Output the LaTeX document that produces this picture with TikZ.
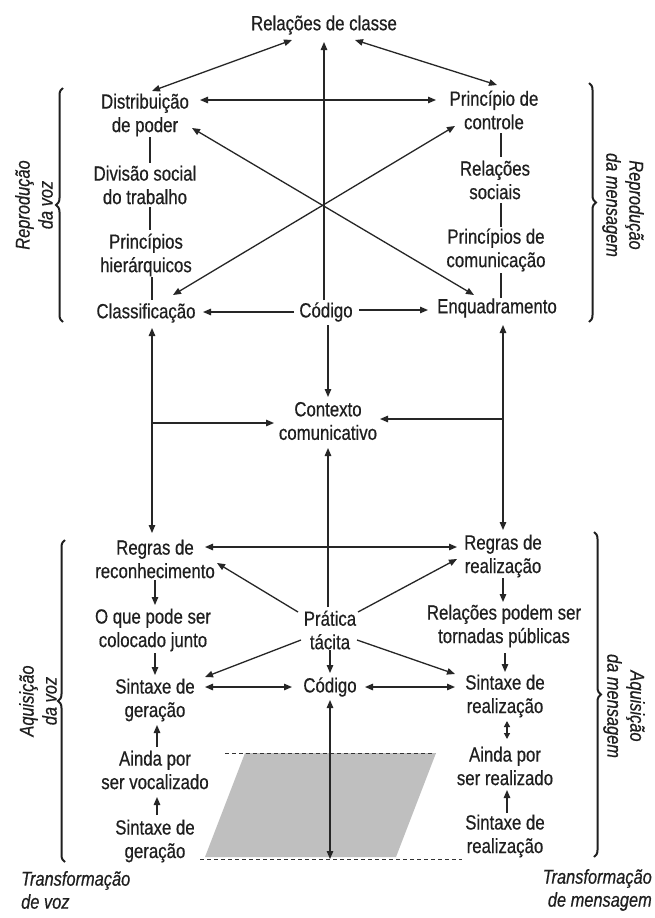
\documentclass[tikz,border=0pt]{standalone}
\usepackage{fontspec}
\setmainfont{Liberation Sans}[FakeStretch=0.82,FakeBold=0.5]
\usetikzlibrary{arrows.meta,calc,decorations.pathreplacing}
\begin{document}
\begin{tikzpicture}[x=1pt,y=-1pt,
  lbl/.style={align=center, inner sep=0pt, font=\fontsize{20.5}{23.5}\selectfont, text=black!88},
  side/.style={align=center, inner sep=0pt, font=\fontsize{20}{23}\selectfont\itshape, text=black!88},
  con/.style={line width=1.3pt, draw=black!85},
  arr/.style={con, -{Triangle[length=8pt,width=6.5pt]}},
  darr/.style={con, {Triangle[length=8pt,width=6.5pt]}-{Triangle[length=8pt,width=6.5pt]}},
  sdarr/.style={con, {Triangle[length=6pt,width=6pt]}-{Triangle[length=6pt,width=6pt]}},
  brc/.style={decorate, decoration={brace, amplitude=7pt}, line width=2pt, draw=black!88},
  dsh/.style={dash pattern=on 4pt off 3pt, line width=1pt, draw=black!80}
]
\fill[white] (0,0) rectangle (655,918);
\useasboundingbox (0,0) rectangle (655,918);

% shaded area
\fill[gray!50] (245,753) -- (436,753) -- (396,857) -- (205,857) -- cycle;
\coordinate (dtl) at (225,753);
\coordinate (dtr) at (435,753);
\coordinate (dbl) at (200,859);
\coordinate (dbr) at (462,859);
\coordinate (bot) at (330,859);
\draw[dsh] (dtl) -- (dtr);
\draw[dsh] (dbl) -- (dbr);

% nodes
\node[lbl] (rc) at (324,25) {Relações de classe};
\node[lbl] (dp) at (145,115) {Distribuição\\de poder};
\node[lbl] (pc) at (494,110) {Princípio de\\controle};
\node[lbl] (dst) at (145,185) {Divisão social\\do trabalho};
\node[lbl] (rs) at (495,180) {Relações\\sociais};
\node[lbl] (ph) at (146,255) {Princípios\\hierárquicos};
\node[lbl] (pcom) at (496,250) {Princípios de\\comunicação};
\node[lbl] (cl) at (146,313) {Classificação};
\node[lbl] (cod1) at (326,312) {Código};
\node[lbl] (enq) at (497,308) {Enquadramento};
\node[lbl] (ctx) at (328,421) {Contexto\\comunicativo};
\node[lbl] (rr) at (155,559) {Regras de\\reconhecimento};
\node[lbl] (rz) at (503,556) {Regras de\\realização};
\node[lbl] (oq) at (153,630) {O que pode ser\\colocado junto};
\node[lbl] (pt) at (330,630) {Prática\\tácita};
\node[lbl] (rp) at (504,626) {Relações podem ser\\tornadas públicas};
\node[lbl] (sg1) at (155,700) {Sintaxe de\\geração};
\node[lbl] (cod2) at (330,687) {Código};
\node[lbl] (sr1) at (505,696) {Sintaxe de\\realização};
\node[lbl] (av) at (155,770) {Ainda por\\ser vocalizado};
\node[lbl] (ar) at (505,766) {Ainda por\\ser realizado};
\node[lbl] (sg2) at (155,841) {Sintaxe de\\geração};
\node[lbl] (sr2) at (505,836) {Sintaxe de\\realização};

% side labels
\node[side, rotate=90] (l1) at (34,205) {Reprodução\\da voz};
\node[side, rotate=-90] (l2) at (623,205) {Reprodução\\da mensagem};
\node[side, rotate=90] (l3) at (38,701) {Aquisição\\da voz};
\node[side, rotate=-90] (l4) at (624,706) {Aquisição\\da mensagem};
\node[side, anchor=west, align=left] (l5) at (21,890) {Transformação\\de voz};
\node[side, anchor=east, align=right] (l6) at (652,890) {Transformação\\de mensagem};

% braces
\draw[brc] (63,322) -- (63,88);
\draw[brc] (589,83) -- (589,322);
\draw[brc] (65,862) -- (65,540);
\draw[brc] (594,532) -- (594,857);

% top part
\draw[darr] ($(rc)+(-32,15)$) -- ($(dp)+(7,-24)$);
\draw[darr] ($(rc)+(31,15)$) -- ($(pc)+(3,-25)$);
\draw[arr] ($(cod1)+(-2,-12)$) -- ($(rc)+(0,17)$);
\draw[darr] ($(dp)+(55,-15)$) -- ($(pc)+(-58,-10)$);
\draw[darr] ($(dp)+(47,13)$) -- ($(enq)+(-23,-13)$);
\draw[darr] ($(pc)+(-39,16)$) -- ($(cl)+(27,-18)$);
\draw[con] ($(dp)+(5,22)$) -- ($(dst)+(5,-22)$);
\draw[con] ($(dst)+(5,22)$) -- ($(ph)+(4,-25)$);
\draw[con] ($(ph)+(6,22)$) -- ($(cl)+(6,-13)$);
\draw[con] ($(pc)+(7,23)$) -- ($(rs)+(6,-23)$);
\draw[con] ($(rs)+(6,23)$) -- ($(pcom)+(5,-23)$);
\draw[con] ($(pcom)+(5,23)$) -- ($(enq)+(4,-10)$);
\draw[arr] ($(cod1)+(-32,0)$) -- ($(cl)+(57,-1)$);
\draw[arr] ($(cod1)+(33,-2)$) -- ($(enq)+(-69,2)$);

% middle part
\draw[darr] ($(cl)+(6,15)$) -- ($(rr)+(-3,-26)$);
\draw[darr] ($(enq)+(6,17)$) -- ($(rz)+(0,-26)$);
\draw[arr] ($(cod1)+(2,13)$) -- ($(ctx)+(0,-24)$);
\draw[arr] ($(cl)+(6,110)$) -- ($(ctx)+(-54,2)$);
\draw[arr] ($(enq)+(6,111)$) -- ($(ctx)+(52,-2)$);
\draw[arr] ($(pt)+(-2,-23)$) -- ($(ctx)+(0,27)$);

% bottom part
\draw[darr] ($(rr)+(50,-12)$) -- ($(rz)+(-46,-9)$);
\draw[arr] ($(pt)+(-32,-18)$) -- ($(rr)+(62,4)$);
\draw[arr] ($(pt)+(28,-18)$) -- ($(rz)+(-46,3)$);
\draw[arr] ($(rr)+(0,21)$) -- ($(oq)+(2,-25)$);
\draw[arr] ($(rz)+(0,22)$) -- ($(rp)+(-1,-24)$);
\draw[arr] ($(oq)+(2,23)$) -- ($(sg1)+(0,-25)$);
\draw[arr] ($(rp)+(1,27)$) -- ($(sr1)+(0,-24)$);
\draw[arr] ($(pt)+(-29,10)$) -- ($(sg1)+(50,-23)$);
\draw[arr] ($(pt)+(27,10)$) -- ($(sr1)+(-50,-22)$);
\draw[arr] ($(pt)+(0,20)$) -- ($(cod2)+(0,-14)$);
\draw[darr] ($(sg1)+(50,-13)$) -- ($(cod2)+(-38,0)$);
\draw[darr] ($(cod2)+(35,0)$) -- ($(sr1)+(-50,-9)$);
\draw[sdarr] ($(sr1)+(2,25)$) -- ($(ar)+(2,-27)$);
\draw[arr] ($(av)+(2,-23)$) -- ($(sg1)+(2,25)$);
\draw[arr] ($(sg2)+(2,-26)$) -- ($(av)+(2,27)$);
\draw[arr] ($(sr2)+(2,-23)$) -- ($(ar)+(2,24)$);
\draw[darr] ($(cod2)+(0,13)$) -- (bot);
\end{tikzpicture}
\end{document}
